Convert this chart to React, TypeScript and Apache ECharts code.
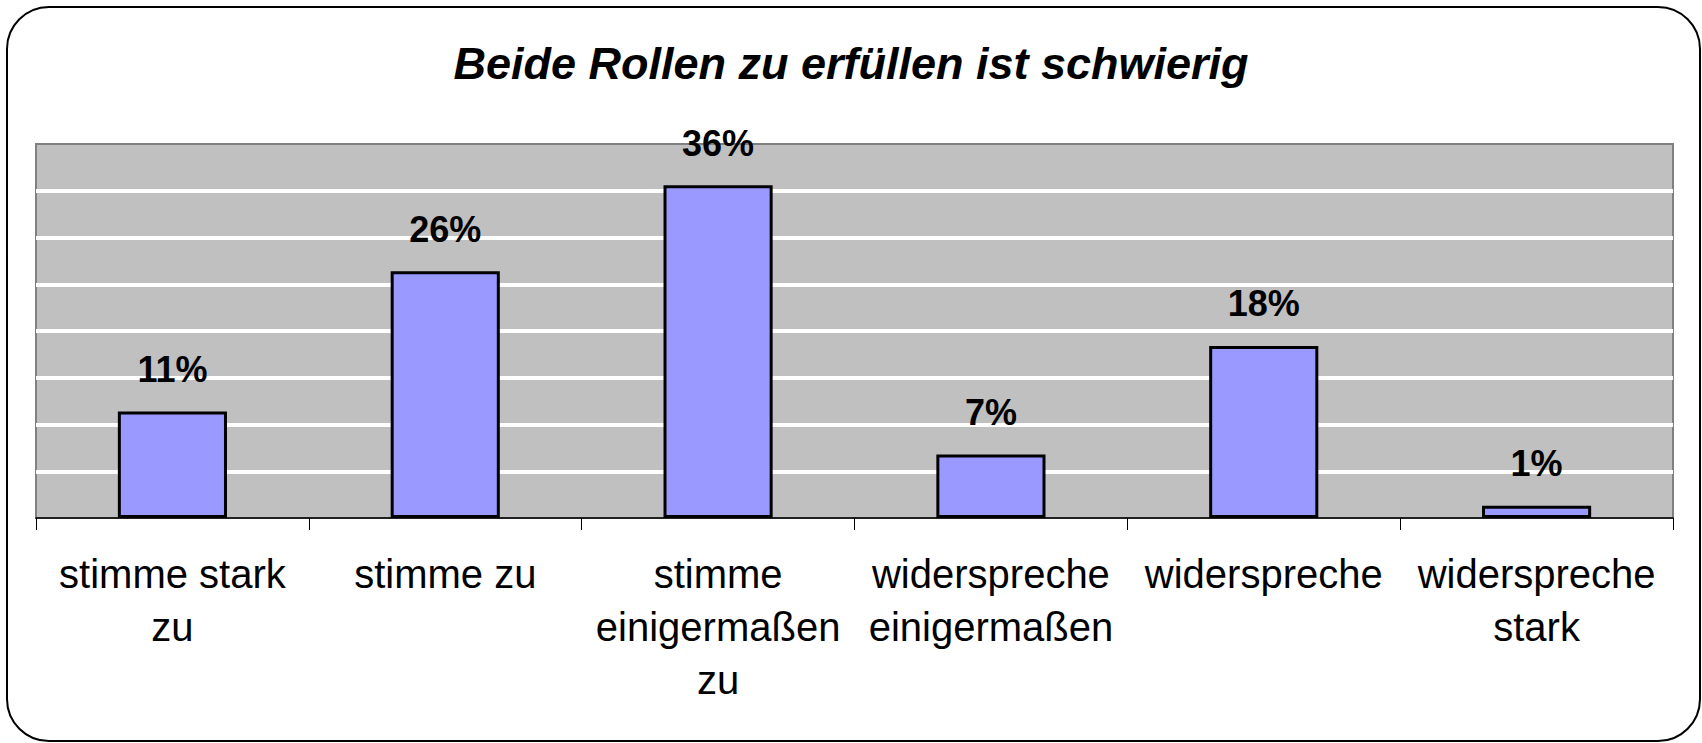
import React, { useEffect, useRef } from "react";
import * as echarts from "echarts";

const titleText = "Beide Rollen zu erfüllen ist schwierig";
const categories = [
  "stimme stark\nzu",
  "stimme zu",
  "stimme\neinigermaßen\nzu",
  "widerspreche\neinigermaßen",
  "widerspreche",
  "widerspreche\nstark",
];
const shares = [0.114, 0.264, 0.356, 0.068, 0.184, 0.013];
const axisMax = 0.4;
const axisStep = 0.05;

export default function App() {
  const ref = useRef<HTMLDivElement>(null);
  useEffect(() => {
    if (!ref.current) return;
    const chart = echarts.init(ref.current, null, { renderer: "svg" });
    chart.setOption({
      animation: false,
      backgroundColor: "#ffffff",
      title: {
        text: titleText,
        left: "center",
        top: 36,
        textStyle: {
          fontFamily: "Liberation Sans, Arial, sans-serif",
          fontSize: 45,
          fontWeight: "bold",
          fontStyle: "italic",
          color: "#000000",
          lineHeight: 45,
        },
      },
      graphic: [
        {
          type: "rect",
          shape: { x: 7, y: 7, width: 1693, height: 734, r: 42 },
          style: { fill: "none", stroke: "#000000", lineWidth: 2 },
          silent: true,
          z: 100,
        },
      ],
      grid: {
        left: 36,
        right: 29,
        top: 144,
        bottom: 225,
        show: true,
        backgroundColor: "#C0C0C0",
        borderColor: "#808080",
        borderWidth: 2,
      },
      xAxis: {
        type: "category",
        data: categories,
        boundaryGap: true,
        axisLine: { show: true, lineStyle: { color: "#000000", width: 1.5 } },
        axisTick: { show: true, length: 12, alignWithLabel: false, lineStyle: { color: "#000000", width: 1 } },
        axisLabel: {
          interval: 0,
          margin: 29,
          fontFamily: "Liberation Sans, Arial, sans-serif",
          fontSize: 40,
          lineHeight: 53,
          color: "#000000",
          align: "center",
        },
        splitLine: { show: false },
      },
      yAxis: {
        type: "value",
        min: 0,
        max: axisMax,
        interval: axisStep,
        axisLabel: { show: false },
        axisLine: { show: false },
        axisTick: { show: false },
        splitLine: {
          show: true,
          showMinLine: false,
          showMaxLine: false,
          lineStyle: { color: "#ffffff", width: 4 },
        },
      },
      series: [
        {
          type: "bar",
          data: shares,
          barWidth: "40%",
          itemStyle: { color: "#9999FF", borderColor: "#000000", borderWidth: 3 },
          label: {
            show: true,
            position: "top",
            distance: 24,
            fontFamily: "Liberation Sans, Arial, sans-serif",
            fontSize: 36,
            fontWeight: "bold",
            color: "#000000",
            formatter: (p: any) => Math.round(p.value * 100) + "%",
          },
        },
      ],
    });
    return () => chart.dispose();
  }, []);
  return (
    <div
      ref={ref}
      style={{ position: "fixed", left: 0, top: 0, width: 1702, height: 743 }}
    />
  );
}
